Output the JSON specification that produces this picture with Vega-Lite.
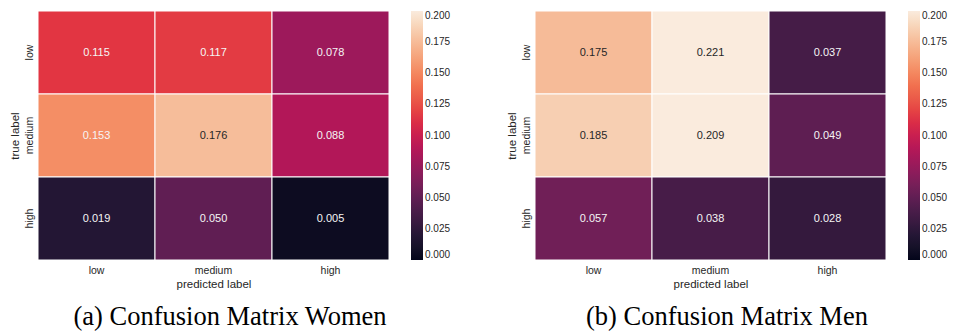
{
  "$schema": "https://vega.github.io/schema/vega-lite/v6.json",
  "padding": {"left": 9, "top": 10, "right": 0, "bottom": 0},
  "background": "white",
  "spacing": 55,
  "datasets": {
    "women": [
      {"true": "low", "pred": "low", "value": 0.115},
      {"true": "low", "pred": "medium", "value": 0.117},
      {"true": "low", "pred": "high", "value": 0.078},
      {"true": "medium", "pred": "low", "value": 0.153},
      {"true": "medium", "pred": "medium", "value": 0.176},
      {"true": "medium", "pred": "high", "value": 0.088},
      {"true": "high", "pred": "low", "value": 0.019},
      {"true": "high", "pred": "medium", "value": 0.050},
      {"true": "high", "pred": "high", "value": 0.005}
    ],
    "men": [
      {"true": "low", "pred": "low", "value": 0.175},
      {"true": "low", "pred": "medium", "value": 0.221},
      {"true": "low", "pred": "high", "value": 0.037},
      {"true": "medium", "pred": "low", "value": 0.185},
      {"true": "medium", "pred": "medium", "value": 0.209},
      {"true": "medium", "pred": "high", "value": 0.049},
      {"true": "high", "pred": "low", "value": 0.057},
      {"true": "high", "pred": "medium", "value": 0.038},
      {"true": "high", "pred": "high", "value": 0.028}
    ]
  },
  "resolve": {"scale": {"color": "independent"}, "legend": {"color": "independent"}},
  "config": {
    "view": {"stroke": null},
    "axis": {
      "domain": false, "ticks": false, "grid": false,
      "labelFont": "Liberation Sans", "titleFont": "Liberation Sans",
      "labelColor": "#262626", "titleColor": "#262626",
      "titleFontWeight": "normal", "labelFontSize": 10.5, "titleFontSize": 11.5
    },
    "axisX": {"labelPadding": 5, "titlePadding": 3, "labelAngle": 0},
    "axisY": {"labelPadding": 4, "titlePadding": 4, "labelAngle": -90},
    "legend": {
      "gradientLength": 249, "gradientThickness": 12, "offset": 22, "padding": 0,
      "labelFont": "Liberation Sans", "labelFontSize": 10, "labelColor": "#262626",
      "labelOffset": 7, "labelOverlap": false, "gradientStrokeWidth": 0, "direction": "vertical"
    },
    "title": {"font": "Liberation Serif", "fontSize": 26.5, "fontWeight": "normal", "color": "#000000"}
  },
  "hconcat": [
    {
      "title": {"text": "(a) Confusion Matrix Women", "orient": "bottom", "frame": "bounds", "anchor": "middle", "offset": 14},
      "data": {"name": "women"},
      "width": 351, "height": 249,
      "encoding": {
        "x": {"field": "pred", "type": "nominal", "sort": ["low", "medium", "high"], "title": "predicted label"},
        "y": {"field": "true", "type": "nominal", "sort": ["low", "medium", "high"], "title": "true label"}
      },
      "layer": [
        {
          "mark": {"type": "rect", "stroke": "white", "strokeWidth": 1},
          "encoding": {
            "color": {
              "field": "value", "type": "quantitative",
              "scale": {
                "domain": [0, 0.0285714, 0.0571429, 0.0857143, 0.1142857, 0.1428571, 0.1714286, 0.2],
                "range": ["#03051a", "#35193e", "#701f57", "#ad1759", "#e13342", "#f37651", "#f6b48f", "#faebdd"],
                "clamp": true
              },
              "legend": {"title": null, "values": [0, 0.025, 0.05, 0.075, 0.1, 0.125, 0.15, 0.175, 0.2], "format": ".3f"}
            }
          }
        },
        {
          "mark": {"type": "text", "font": "Liberation Sans", "fontSize": 11},
          "encoding": {
            "text": {"field": "value", "type": "quantitative", "format": ".3f"},
            "color": {"condition": {"test": "datum.value > 0.165", "value": "#262626"}, "value": "#f5f5f5"}
          }
        }
      ]
    },
    {
      "title": {"text": "(b) Confusion Matrix Men", "orient": "bottom", "frame": "bounds", "anchor": "middle", "offset": 14},
      "data": {"name": "men"},
      "width": 351, "height": 249,
      "encoding": {
        "x": {"field": "pred", "type": "nominal", "sort": ["low", "medium", "high"], "title": "predicted label"},
        "y": {"field": "true", "type": "nominal", "sort": ["low", "medium", "high"], "title": "true label"}
      },
      "layer": [
        {
          "mark": {"type": "rect", "stroke": "white", "strokeWidth": 1},
          "encoding": {
            "color": {
              "field": "value", "type": "quantitative",
              "scale": {
                "domain": [0, 0.0285714, 0.0571429, 0.0857143, 0.1142857, 0.1428571, 0.1714286, 0.2],
                "range": ["#03051a", "#35193e", "#701f57", "#ad1759", "#e13342", "#f37651", "#f6b48f", "#faebdd"],
                "clamp": true
              },
              "legend": {"title": null, "values": [0, 0.025, 0.05, 0.075, 0.1, 0.125, 0.15, 0.175, 0.2], "format": ".3f"}
            }
          }
        },
        {
          "mark": {"type": "text", "font": "Liberation Sans", "fontSize": 11},
          "encoding": {
            "text": {"field": "value", "type": "quantitative", "format": ".3f"},
            "color": {"condition": {"test": "datum.value > 0.165", "value": "#262626"}, "value": "#f5f5f5"}
          }
        }
      ]
    }
  ]
}
